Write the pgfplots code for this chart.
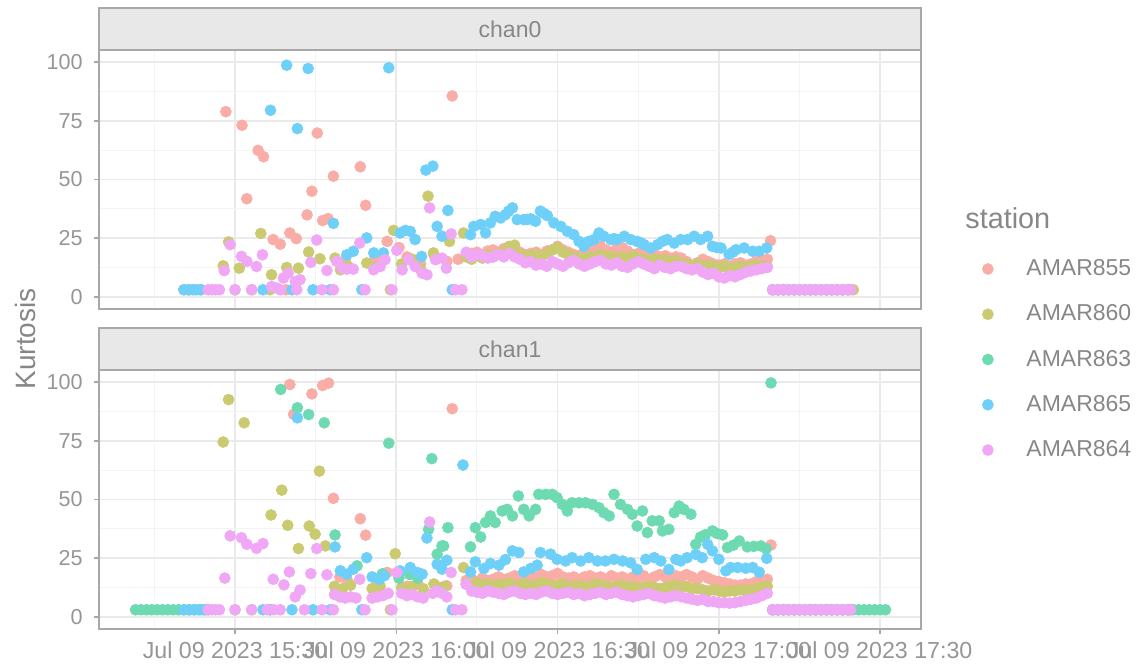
\documentclass[border=0pt]{standalone}
\usepackage{fontspec}
\setmainfont{Liberation Sans}
\usepackage{pgfplots}
\pgfplotsset{compat=1.18}

\definecolor{c855}{RGB}{250,173,167}
\definecolor{c860}{RGB}{202,202,112}
\definecolor{c863}{RGB}{110,218,178}
\definecolor{c865}{RGB}{110,208,248}
\definecolor{c864}{RGB}{240,168,246}
\definecolor{txt}{RGB}{135,135,135}
\definecolor{ticktxt}{RGB}{150,150,150}
\definecolor{gridmaj}{RGB}{234,234,234}
\definecolor{gridmin}{RGB}{244,244,244}
\definecolor{stripfill}{RGB}{232,232,232}
\definecolor{bordercol}{RGB}{168,168,168}

\pgfplotsset{
  panel/.style={
    scale only axis, width=411pt, height=129.5pt,
    xmin=4.7, xmax=157.6, ymin=-5.2, ymax=105.2,
    xtick={30,60,90,120,150}, minor xtick={15,45,75,105,135},
    ytick={0,25,50,75,100}, minor ytick={12.5,37.5,62.5,87.5},
    grid=both,
    major grid style={gridmaj, line width=0.9pt},
    minor grid style={gridmin, line width=0.5pt},
    axis line style={bordercol, line width=0.9pt},
    tick align=outside, tick pos=left,
    major tick length=2.6pt, minor tick length=0pt,
    tick style={bordercol, line width=0.8pt},
    xticklabel style={font=\fontsize{11.6}{13}\selectfont, text=ticktxt},
    yticklabel style={font=\fontsize{10.8}{13}\selectfont, text=ticktxt, xshift=-2pt},
    /pgf/number format/assume math mode=true,
    clip=false,
  },
  pts/.style={only marks, mark=*, mark size=2.75pt, color=#1, mark options={fill=#1, draw=#1, line width=0.3pt}},
}

\begin{document}
\begin{tikzpicture}
\useasboundingbox (0,0) rectangle (569.5pt,333.5pt);

% ---------------- chan0 ----------------
\begin{axis}[panel, at={(49.5pt,179pt)}, anchor=south west,
  xticklabels={}, xtick style={draw=none}]
% AMAR855
\addplot[pts=c855] coordinates {
(20.5,3)(21.5,3)(22.5,3)(23.5,3)(39.5,3)
(28.3,78.9)(31.3,73.1)(32.2,41.8)(34.3,62.4)(35.3,59.7)(37.1,24.4)(38.4,22.4)(40.2,27.2)(41.4,24.8)(43.4,34.9)(44.3,45)(45.3,69.8)(46.3,32.5)(47.3,33.3)(48.3,51.4)(53.3,55.4)(54.3,39)(58.3,23.6)(69.4,15.1)(70.4,85.6)
(50.5,15.5)(56,16)(60.5,21)(62,17)(64.5,14)(67,18)(71.5,16)
(73,18)(74,18.5)(75,19)(76,18)(77,19.5)(78,20)(79,19)(80,20.5)(81,21)(82,19.5)(83,19)(84,18)(85,18.5)(86,19)(87,18)(88,19.5)(89,20)(90,21.5)(91,20)(92,19)(93,18)(94,17.5)(95,18.5)(96,19)(97,20.5)(98,21.5)(99,20)(100,19)(101,20.5)(102,21)(103,19.5)(104,18)(105,18.5)(106,19)(107,17.5)(108,18)(109,17)(110,17.5)(111,16.5)(112,17)(113,16.5)(114,15)(115,13)(116,14.5)(117,16)(118,15)(119,14)(120,13.5)(121,14)(122,13)(123,14)(124,14.5)(125,13.5)(126,14)(127,15)(128,15.5)(129,16)(129.6,23.9)
(130,3)(131,3)(132,3)(133,3)(134,3)(135,3)(136,3)(137,3)(138,3)(139,3)(140,3)(141,3)(142,3)(143,3)(144,3)
};
% AMAR860
\addplot[pts=c860] coordinates {
(30,3)(33.1,3)(36.5,3)(58.9,3)
(27.8,13.2)(28.8,23.4)(30.8,12.2)(34.8,27)(36.8,9.4)(39.6,12.5)(41.8,12.2)(43.7,19.1)(45.8,16.2)(48.6,16.5)(49.6,11.5)(51,13)(54.5,14.4)(56,12.5)(59.5,28.3)(61,14)(63,16)(64.5,12)(65.9,42.9)(66.9,18.7)(69.9,23.6)(72.5,27.2)
(73,17)(74,16)(75,17.5)(76,16.5)(77,18)(78,17)(79,18.5)(80,19)(81,21.5)(82,22)(83,18)(84,17)(85,17.5)(86,18)(87,17)(88,18.5)(89,20)(90,21)(91,19)(92,18)(93,17)(94,16.5)(95,16)(96,17)(97,16.5)(98,18)(99,17.5)(100,17)(101,16.5)(102,17)(103,16)(104,17.5)(105,16.5)(106,16)(107,15.5)(108,16)(109,15.5)(110,16)(111,15)(112,15.5)(113,14.5)(114,14)(115,13.5)(116,14)(117,13)(118,13.5)(119,13)(120,12.5)(121,13)(122,12)(123,12.5)(124,13)(125,12.5)(126,13)(127,13.5)(128,13)(129,13)
(130,3)(131,3)(132,3)(133,3)(134,3)(135,3)(136,3)(137,3)(138,3)(139,3)(140,3)(141,3)(142,3)(143,3)(144,3)(145,3)
};
% AMAR865
\addplot[pts=c865] coordinates {
(20.5,3)(21.3,3)(22.1,3)(22.9,3)(23.7,3)(35.2,3)(40.6,3)(44.5,3)(47.7,3)(53.6,3)(70.4,3)
(36.6,79.5)(39.6,98.7)(41.6,71.7)(43.6,97.3)(58.6,97.6)(48.3,31.3)(50.8,17.9)(52,19.4)(54.5,25.1)(55.8,18.7)(57.6,18.7)(60.7,27.2)(61.7,28.3)(62.6,27.9)(63.5,24.4)(64.7,17.2)(65.5,54)(66.8,55.7)(67.6,30)(68.5,25.8)(69.6,36.8)
(73.8,26.5)(74.4,30)(75.7,30.8)(76.6,27.2)(77.5,31.5)(78.4,34.3)(79.4,33.6)(80.3,35)(80.9,36.5)(81.6,37.9)(82.5,32.9)(83.7,32.9)(84.4,33)(85,33.2)(85.9,32.2)(86.8,36.5)(87.5,35.5)(88.1,34.6)(89.3,31.5)(90.6,30)(91.8,27.9)(93,26.5)(94,23.6)(94.9,21.5)(95.8,23.6)(96.8,24.4)(97.7,27.2)(98.6,25.8)(99.9,24.4)(100.5,24.8)(101.1,24.4)(102.4,25.8)(103.6,24.4)(104.8,23.6)(105.5,23)(106.1,22.2)(107.3,20.8)(108.6,22.2)(109.5,23.6)(110.4,24.4)(111.7,22.9)(112.9,24.4)(114.2,24.4)(115.4,25.8)(116.6,24.4)(117.9,25.8)(118.8,21.5)(119.6,21)(120.4,20.8)(121.9,18.1)(122.6,19)(123.2,20.1)(124.7,20.8)(126.3,19.4)(127.5,19.4)(128.9,20.8)
(130,3)(131,3)(132,3)(133,3)(134,3)(135,3)(136,3)(137,3)(138,3)(139,3)(140,3)(141,3)(142,3)(143,3)
};
% AMAR864
\addplot[pts=c864] coordinates {
(25,3)(25.7,3)(26.4,3)(27.1,3)(30,3)(33.1,3)(36.8,4.4)(37.8,3.7)(38.4,3)(41.5,3)(46.2,3)(48.3,3)(54.2,3)(59.2,3)(71,3)(72.2,3)
(28,11.2)(29.1,22.2)(31.2,17.2)(32.2,15.1)(34,12.9)(35.1,17.9)(39,8)(39.9,10.1)(41.2,6.5)(42.1,7.3)(44.1,14.7)(45.2,24.2)(47.1,11.2)(48.9,15.1)(49.9,12.3)(50.8,11.8)(52,11.8)(53.2,22.9)(55.8,11.5)(57,12.9)(57.9,15.8)(60.1,19.8)(61.1,11.5)(62.3,15.8)(63.5,12.9)(64.8,10.1)(65.7,9.4)(66.2,37.9)(67.3,15.8)(68.5,16.5)(69.3,12.2)(70.2,26.8)
(73,19)(74,17)(75,18)(76,17.5)(77,16.5)(78,17)(79,18)(80,17)(81,18.5)(82,17)(83,16)(84,14.5)(85,15)(86,13.5)(87,14)(88,13)(89,15)(90,14)(91,13)(92,14.5)(93,15.5)(94,14)(95,13)(96,14)(97,15)(98,15.5)(99,14)(100,13.5)(101,14.5)(102,13)(103,12.5)(104,14)(105,15)(106,14)(107,13)(108,12)(109,13.5)(110,12.5)(111,12)(112,13)(113,13)(114,12)(115,11.5)(116,12)(117,10.5)(118,9.5)(119,10)(120,8.5)(121,8)(122,9)(123,8.5)(124,9.5)(125,10.5)(126,11)(127,11.5)(128,12)(129,12.5)
(130,3)(131,3)(132,3)(133,3)(134,3)(135,3)(136,3)(137,3)(138,3)(139,3)(140,3)(141,3)(142,3)(143,3)(144,3)(144.5,3)
};
\draw[fill=stripfill, draw=bordercol, line width=0.9pt] (rel axis cs:0,1) rectangle (rel axis cs:1,1.1622);
\node[text=txt, font=\fontsize{11.5}{13}\selectfont] at (rel axis cs:0.5,1.0811) {chan0};
\end{axis}

% ---------------- chan1 ----------------
\begin{axis}[panel, at={(49.5pt,19pt)}, anchor=south west,
  xticklabels={Jul 09 2023 15:30,Jul 09 2023 16:00,Jul 09 2023 16:30,Jul 09 2023 17:00,Jul 09 2023 17:30},
  legend cell align=left,
  legend style={at={(1.0742,1.0405)}, anchor=west, draw=none, fill=none,
    inner sep=0pt, row sep=9.1pt, column sep=14.5pt, font=\fontsize{11.5}{13}\selectfont, text=txt}]
% AMAR855
\addplot[pts=c855] coordinates {
(40.2,99)(40.9,86.3)(44.3,95)(46.3,98.6)(47.4,99.6)(48.3,50.5)(49.5,17)(51,15)(53.3,41.8)(54.3,34.8)(56.5,14)(58.3,18.9)(62,13)(64,14)(67.5,13)(69.4,13.2)(70.4,88.7)
(73,15.5)(74,16)(75,15)(76,16.5)(77,15.5)(78,16)(79,17)(80,16)(81,16.5)(82,17.5)(83,16)(84,17)(85,16.5)(86,17)(87,18)(88,17)(89,17.5)(90,18.5)(91,17)(92,16.5)(93,17)(94,16)(95,17)(96,17.5)(97,16.5)(98,17)(99,16)(100,17.5)(101,16.5)(102,17)(103,16)(104,17)(105,16.5)(106,17.5)(107,16)(108,17)(109,18)(110,17)(111,16)(112,17.5)(113,17)(114,18)(115,17)(116,16)(117,17.5)(118,16.5)(119,15.5)(120,15)(121,14.5)(122,14)(123,13.5)(124,13.5)(125,14)(126,14)(127,15)(128,15.5)(129,16)(129.7,30.6)
(130,3)(131,3)(132,3)(133,3)(134,3)(135,3)(136,3)(137,3)(138,3)(139,3)(140,3)(141,3)(142,3)(143,3)(144,3)
};
\addlegendentry{AMAR855}
% AMAR860
\addplot[pts=c860] coordinates {
(30,3)(33.1,3)(36.5,3)(58.9,3)
(27.8,74.5)(28.8,92.6)(31.7,82.7)(36.7,43.4)(38.7,54)(39.8,39)(41.8,29.1)(43.8,38.7)(44.9,35.2)(45.7,62.1)(46.8,30.2)(48.5,13)(50,12)(51.5,13.5)(55.5,12)(57,13)(59.8,26.9)(61,12.5)(63,13)(65,12)(67,14)(69,13)(72.5,21)
(73,14)(74,13)(75,14.5)(76,13.5)(77,14)(78,13)(79,14)(80,13.5)(81,14.5)(82,13)(83,13.5)(84,14)(85,13)(86,13.5)(87,14.5)(88,14)(89,13)(90,13.5)(91,14)(92,12.5)(93,13)(94,13.5)(95,12.5)(96,13)(97,14)(98,13.5)(99,13)(100,12.5)(101,13)(102,13.5)(103,12.5)(104,13)(105,12)(106,12.5)(107,13)(108,12.5)(109,12)(110,12.5)(111,13)(112,13.5)(113,12.5)(114,13)(115,12)(116,12)(117,11.5)(118,11)(119,11.5)(120,11)(121,10.5)(122,11)(123,11)(124,11.5)(125,11)(126,11.5)(127,12)(128,12.5)(129,13)
(130,3)(131,3)(132,3)(133,3)(134,3)(135,3)(136,3)(137,3)(138,3)(139,3)(140,3)(141,3)(142,3)(143,3)(144,3)(144.5,3)
};
\addlegendentry{AMAR860}
% AMAR863
\addplot[pts=c863] coordinates {
(11.5,3)(12.5,3)(13.5,3)(14.5,3)(15.5,3)(16.5,3)(17.5,3)(18.5,3)(19.5,3)(20.5,3)(21.5,3)(22.5,3)(23.5,3)(24.5,3)
(38.5,96.9)(41.6,89.1)(43.7,86.2)(46.6,82.7)(48.6,34.9)(52.7,21.7)(57.4,18.3)(58.6,74)(60.5,16.5)(62.5,18)(64,16.5)(66,37.3)(66.6,67.4)(67.6,26.7)(68.5,30.2)(68.8,30.2)(69.6,38)
(73.8,29.8)(74.7,38)(75.7,34)(76.6,40.2)(77.5,43)(78.4,40.2)(79.7,45.1)(80.6,45.8)(81.6,43)(82.7,51.5)(83.7,45.8)(84.7,43)(85.9,45.8)(86.5,52.2)(87.8,52.2)(89,52.2)(89.9,50.8)(90.9,47.9)(91.8,45.1)(92.7,48.6)(94,48.6)(95.2,48.6)(96.5,47.9)(97.7,46.5)(98.6,44.4)(99.6,43)(100.5,52.2)(101.7,47.9)(103,45.8)(103.9,43.7)(104.8,38.7)(105.8,45.1)(106.7,35.9)(107.6,40.9)(108.9,40.9)(109.5,36.6)(110.7,37.3)(111.7,44.4)(112.6,47.2)(113.5,45.8)(114.8,43.7)(115.7,30.9)(116.6,34)(117.5,35)(118.8,36.6)(119.7,35.5)(120.7,34.9)(121.6,29.5)(122.7,30.5)(123.8,32.3)(125.3,29.8)(126.5,30)(127.8,30.2)(128.8,29)(129.7,99.7)
(130,3)(131,3)(132,3)(133,3)(134,3)(135,3)(136,3)(137,3)(138,3)(139,3)(140,3)(141,3)(142,3)(143,3)(144,3)(145,3)(146,3)(147,3)(148,3)(149,3)(150,3)(151,3)
};
\addlegendentry{AMAR863}
% AMAR865
\addplot[pts=c865] coordinates {
(20.5,3)(21.4,3)(22.3,3)(23.2,3)(24.1,3)(25,3)(35.2,3)(36.5,3)(40.6,3)(44.5,3)(47.7,3)(53.6,3)(70.4,3)
(41.6,84.8)(48.6,29.8)(49.6,19.6)(50.8,18.2)(52,20.3)(54.5,25.2)(55.5,17)(56.8,16)(57.8,17.5)(60.7,19.6)(62.6,21)(63.9,18.9)(64.8,18.2)(65.7,33.6)(67.6,22.4)(68.5,20.3)(69.4,24.1)(72.4,64.7)
(73.8,19.1)(74.7,23.4)(76.3,20.6)(77.5,22.7)(79.1,22)(80.3,24.4)(81.6,28.1)(82.8,27.4)(83.7,19.1)(85,20.6)(86.2,22)(86.8,27.4)(88.7,26.7)(89.9,24.5)(91.5,23.8)(92.7,25.2)(94.3,23.8)(95.8,25.2)(97.4,23.8)(98.9,23.8)(100.5,24.5)(102.1,23.8)(103.6,23)(104.8,20.2)(106.4,24.5)(108,25.2)(109.2,23.8)(110.7,20.2)(112,24.5)(112.9,23.8)(114.1,25.2)(115.7,26.6)(116.9,25.2)(117.9,30.9)(118.8,28.1)(120,24.5)(121.3,19.6)(122.2,21)(123.5,21)(125,20.7)(126.3,21)(127.5,19)(128.9,24.9)
(130,3)(131,3)(132,3)(133,3)(134,3)(135,3)(136,3)(137,3)(138,3)(139,3)(140,3)(141,3)(142,3)(143,3)
};
\addlegendentry{AMAR865}
% AMAR864
\addplot[pts=c864] coordinates {
(25,3)(25.7,3)(26.4,3)(27.1,3)(30,3)(33.1,3)(36,3)(37.2,3)(38.4,3)(42.9,3)(46.2,3)(48.3,3)(54.2,3)(59.2,3)(71,3)(72.2,3)
(28.1,16.5)(29.1,34.5)(31.2,33.7)(32.2,30.9)(34,29.2)(35.2,31.2)(37.1,16)(39.1,13.6)(40.1,19.1)(41.2,8.5)(42.1,11.4)(44.1,18.4)(45.2,29.1)(47.1,17.9)(53.2,16)(60.1,18.9)(66.2,40.4)(69.4,8.5)(70.2,18.9)
(48.5,9.5)(49.5,8.5)(50.5,8)(51.5,8.5)(52.5,8)(55.5,8)(56.5,8.5)(57.5,9)(58.5,10)(61,10)(62,9)(63,9.5)(64,8.5)(65,8)(66.8,10)(67.5,11)(68.5,10)
(73,13.8)(74,11)(75,10.5)(76,10)(77,11)(78,10.5)(79,10)(80,9.5)(81,10.5)(82,11)(83,10)(84,9.5)(85,10)(86,9.5)(87,10.5)(88,11)(89,10)(90,9.5)(91,10)(92,10.5)(93,9.5)(94,10)(95,9)(96,9.5)(97,10)(98,10.5)(99,9.5)(100,10)(101,10.5)(102,9.5)(103,9)(104,8.5)(105,9)(106,9.5)(107,10)(108,9)(109,8.5)(110,8)(111,8.5)(112,9)(113,8.5)(114,8)(115,7.5)(116,7)(117,7.5)(118,6.5)(119,6.5)(120,6)(121,6)(122,5.8)(123,6)(124,6.5)(125,7)(126,7.5)(127,8)(128,9)(129,10)
(130,3)(131,3)(132,3)(133,3)(134,3)(135,3)(136,3)(137,3)(138,3)(139,3)(140,3)(141,3)(142,3)(143,3)(144,3)(144.5,3)
};
\addlegendentry{AMAR864}
\draw[fill=stripfill, draw=bordercol, line width=0.9pt] (rel axis cs:0,1) rectangle (rel axis cs:1,1.1622);
\node[text=txt, font=\fontsize{11.5}{13}\selectfont] at (rel axis cs:0.5,1.0811) {chan1};
\end{axis}

\node[rotate=90, text=txt, font=\fontsize{14}{16}\selectfont] at (12.5pt,164pt) {Kurtosis};
\node[anchor=west, text=txt, font=\fontsize{14.4}{16}\selectfont, inner sep=0pt] at (482.5pt,224.5pt) {station};
\end{tikzpicture}
\end{document}
